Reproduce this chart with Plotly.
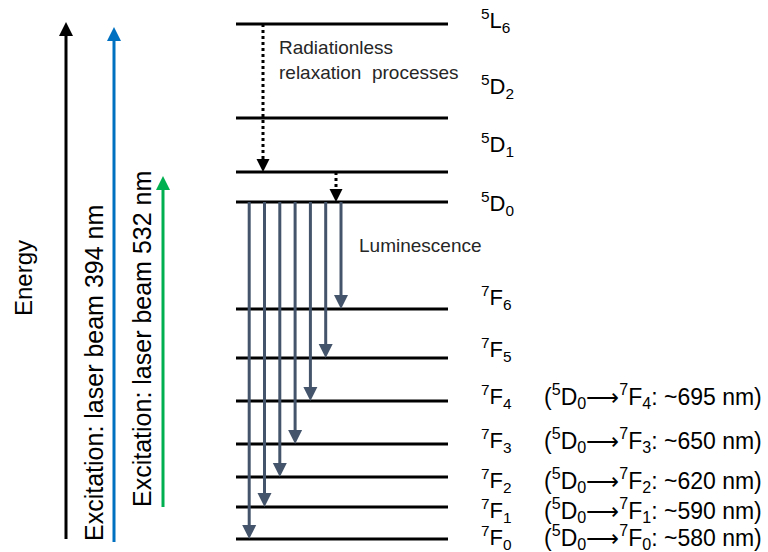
import plotly.graph_objects as go

# ---------------- data ----------------
level_names = ["5L6", "5D2", "5D1", "5D0", "7F6", "7F5", "7F4", "7F3", "7F2", "7F1", "7F0"]
level_energy = [528, 434, 380, 350, 243, 194, 151, 108, 75, 45, 13]   # arbitrary energy units
level_labels = ["<sup>5</sup>L<sub>6</sub>", "<sup>5</sup>D<sub>2</sub>", "<sup>5</sup>D<sub>1</sub>",
                "<sup>5</sup>D<sub>0</sub>", "<sup>7</sup>F<sub>6</sub>", "<sup>7</sup>F<sub>5</sub>",
                "<sup>7</sup>F<sub>4</sub>", "<sup>7</sup>F<sub>3</sub>", "<sup>7</sup>F<sub>2</sub>",
                "<sup>7</sup>F<sub>1</sub>", "<sup>7</sup>F<sub>0</sub>"]
label_shift = [4, 32, 28, -1, 12, 9, 5, 4, -3, -3, 2]   # label offset from level (layout)

# radiationless relaxation steps (from, to)
relax_from = ["5L6", "5D1"]
relax_to = ["5D1", "5D0"]

# luminescence transitions from 5D0
lum_targets = ["7F6", "7F5", "7F4", "7F3", "7F2", "7F1", "7F0"]
wl_targets = ["7F4", "7F3", "7F2", "7F1", "7F0"]
wl_nm = [695, 650, 620, 590, 580]

# excitation beams
energy_axis = (13, 530)
exc_394 = (10, 525)
exc_532 = (45, 376)

# ---------------- style ----------------
FONT = "Liberation Sans, Arial, sans-serif"
LUM_COLOR = "#44546A"
TXT = "#262626"
E = dict(zip(level_names, level_energy))
fig = go.Figure()

# level lines
lx, ly = [], []
for e in level_energy:
    lx += [236, 448, None]
    ly += [e, e, None]
fig.add_trace(go.Scatter(x=lx, y=ly, mode="lines", line=dict(color="black", width=3), hoverinfo="skip"))

def varrow(x, y0, y1, color, width=3, dash="solid", head=14):
    d = 1 if y1 > y0 else -1
    fig.add_trace(go.Scatter(x=[x, x], y=[y0, y1 - d * head * 0.6], mode="lines",
                             line=dict(color=color, width=width, dash=dash), hoverinfo="skip"))
    fig.add_trace(go.Scatter(x=[x], y=[y1], mode="markers",
                             marker=dict(symbol="arrow-up" if d > 0 else "arrow-down", size=head,
                                         color=color, line=dict(width=0)), hoverinfo="skip"))

# radiationless (dotted)
relax_x = [263, 336]
for xx, a, b in zip(relax_x, relax_from, relax_to):
    varrow(xx, E[a], E[b], "black", dash="dot", head=13)

# luminescence arrows
for i, t in enumerate(lum_targets):
    xx = 341 - i * 15.3
    varrow(xx, E["5D0"], E[t], LUM_COLOR, head=14)

# left arrows
varrow(66, energy_axis[0], energy_axis[1], "black", head=14)
varrow(114, exc_394[0], exc_394[1], "#0070C0", head=14)
varrow(163, exc_532[0], exc_532[1], "#00B050", head=14)

ann = []
for name, lab, sh in zip(level_names, level_labels, label_shift):
    ann.append(dict(x=479, y=E[name] + sh, text=lab, xanchor="left", yanchor="middle",
                    showarrow=False, font=dict(family=FONT, size=22, color="black")))
for t, w in zip(wl_targets, wl_nm):
    sh = label_shift[level_names.index(t)]
    ann.append(dict(x=542, y=E[t] + sh,
                    text=f"(<sup>5</sup>D<sub>0</sub>\u27f6<sup>7</sup>F<sub>{t[-1]}</sub>: ~{w} nm)",
                    xanchor="left", yanchor="middle", showarrow=False,
                    font=dict(family=FONT, size=23, color="black")))
ann.append(dict(x=277, y=492, text="Radiationless<br>relaxation  processes", xanchor="left",
                yanchor="middle", align="left", showarrow=False,
                font=dict(family=FONT, size=19, color=TXT)))
ann.append(dict(x=357, y=307, text="Luminescence", xanchor="left", yanchor="middle",
                showarrow=False, font=dict(family=FONT, size=19, color=TXT)))
ann.append(dict(x=23, y=274, text="Energy", textangle=-90, showarrow=False,
                font=dict(family=FONT, size=24, color="black")))
ann.append(dict(x=94, y=179, text="Excitation: laser beam 394 nm", textangle=-90, showarrow=False,
                font=dict(family=FONT, size=25, color="black")))
ann.append(dict(x=142, y=213, text="Excitation: laser beam 532 nm", textangle=-90, showarrow=False,
                font=dict(family=FONT, size=25, color="black")))

fig.update_layout(width=768, height=552, margin=dict(l=0, r=0, t=0, b=0),
                  paper_bgcolor="white", plot_bgcolor="white", showlegend=False,
                  xaxis=dict(range=[0, 768], visible=False, fixedrange=True),
                  yaxis=dict(range=[0, 552], visible=False, fixedrange=True),
                  annotations=ann)
fig.write_html("out.html")
